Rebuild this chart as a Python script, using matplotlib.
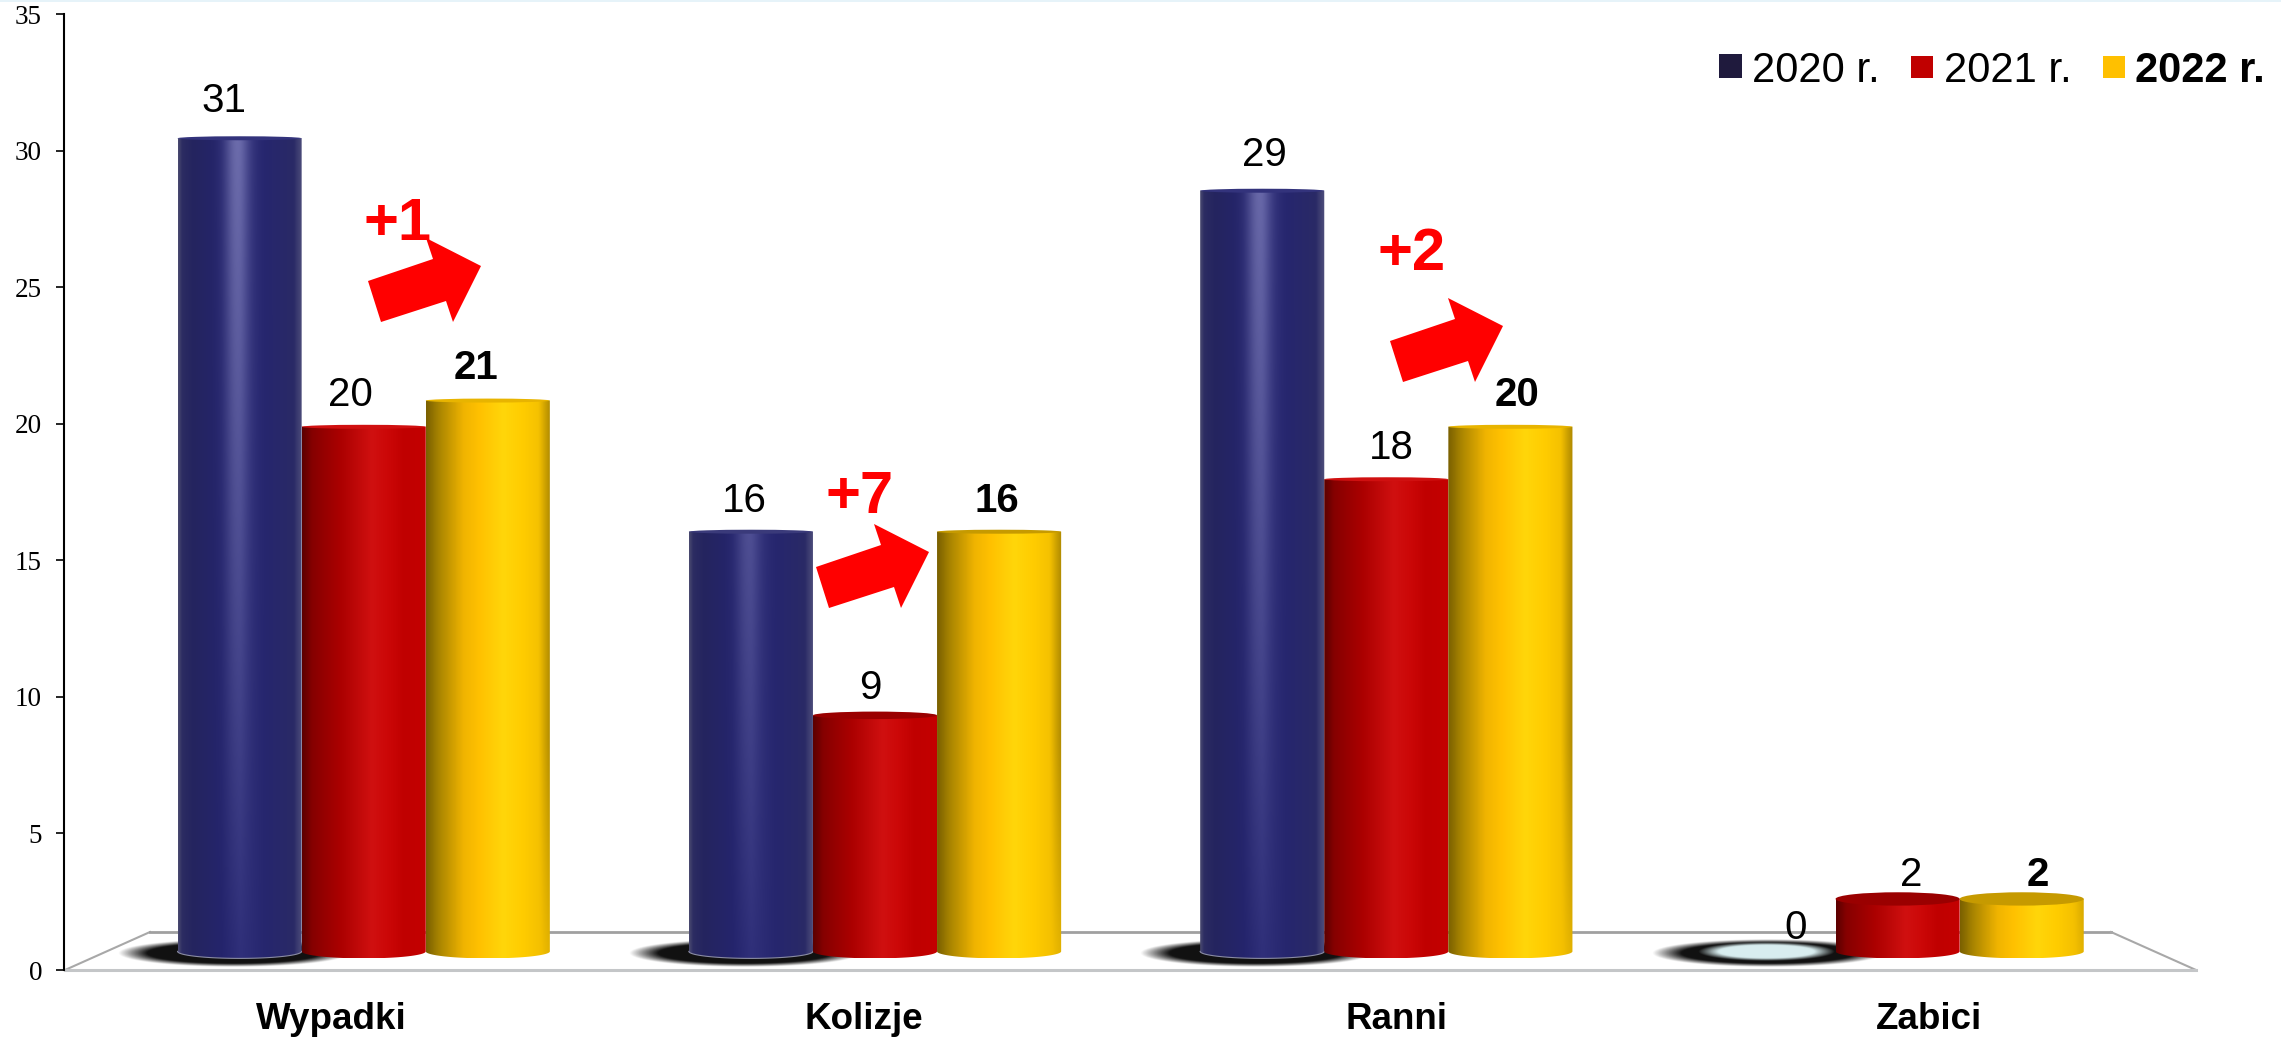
import numpy as np
import matplotlib
matplotlib.use('Agg')
import matplotlib.pyplot as plt
from matplotlib.colors import LinearSegmentedColormap
from matplotlib.patches import Ellipse, Polygon, Rectangle
from matplotlib.lines import Line2D

plt.rcParams['font.family'] = ['Liberation Sans', 'DejaVu Sans']

# data
categories = ['Wypadki', 'Kolizje', 'Ranni', 'Zabici']
years = ['2020 r.', '2021 r.', '2022 r.']
v2020 = [31, 16, 29, 0]
v2021 = [20, 9, 18, 2]
v2022 = [21, 16, 20, 2]
y_ticks = [0, 5, 10, 15, 20, 25, 30, 35]
changes = ['+1', '+7', '+2']

W, H = 2281, 1037
# pixel layout of the 3D looking plot
group0_px, group_px = 363.7, 511.3      # centre of first group, distance between groups
zero_px, unit_px = 951.4, 26.23         # bar base and pixels per value
axis_left, axis_right, axis_top, axis_bottom = 64, 2196, 14, 970
bar_w = 0.2427
label_x = [-0.064, 0.978, 2.020, 3.061]

blue_stops = [(0, '#4a4a70'), (0.03, '#2c2c62'), (0.12, '#24245f'), (0.35, '#24246c'), (0.5, '#30307a'),
              (0.7, '#26266e'), (0.93, '#2a2a66'), (1, '#50507c')]
red_stops = [(0, '#5c0000'), (0.08, '#860000'), (0.3, '#aa0000'), (0.56, '#d01010'), (0.68, '#cc0808'),
             (0.82, '#c00000'), (1, '#c40000')]
yellow_stops = [(0, '#7a6000'), (0.1, '#a88400'), (0.3, '#f0b400'), (0.42, '#ffc000'), (0.62, '#ffd60a'),
                (0.78, '#ffcc00'), (0.92, '#f4c000'), (1, '#e0b000')]
cap_colors = ['#3a3a7a', '#9a0000', '#c69a00']
tall_cap_colors = ['#33337c', '#d01010', '#e8b400']
legend_colors = ['#1f1a3d', '#c00000', '#ffc000']


def fx(px):
    return px / W


def fy(py):
    return 1 - py / H


def draw_cylinder(ax, x, v, stops, cap, series):
    cmap = LinearSegmentedColormap.from_list('c', stops)
    ry_bot = 7.0 / unit_px
    ry_top = max(2.0, 7.5 * (1 - v / 18.0)) / unit_px
    u = np.linspace(0, 1, 240)
    rows = np.linspace(-ry_bot, v, 80)
    rgb = np.repeat(cmap(u)[:, :3][None, :, :], len(rows), axis=0)
    if series == 0:
        # highlight gets stronger towards the top of the blue bars
        hl = np.exp(-((u - 0.47) / 0.1) ** 2)
        rgb = rgb + hl[None, :, None] * (np.clip(rows, 0, 31) / 31.0)[:, None, None] * np.array([0.24, 0.24, 0.2])
    if series == 2:
        # darker right edge on the taller yellow bars
        dark = np.clip((u - 0.9) / 0.1, 0, 1)
        rgb = rgb * (1 - 0.22 * dark[None, :, None] * np.clip(rows / 8.0, 0, 1)[:, None, None])
    rgb = np.clip(rgb, 0, 1)
    left, right = x - bar_w / 2, x + bar_w / 2
    im = ax.imshow(rgb, extent=(left, right, -ry_bot, v), origin='lower', aspect='auto',
                   interpolation='bilinear', zorder=3 + series)
    t = np.linspace(np.pi, 2 * np.pi, 60)
    arc = np.column_stack([x + bar_w / 2 * np.cos(t), ry_bot * np.sin(t)])
    pts = np.vstack([[left, v], arc, [right, v]])
    clip = Polygon(pts, closed=True, transform=ax.transData, fill=False, lw=0)
    ax.add_patch(clip)
    im.set_clip_path(clip)
    if series == 0:
        ax.plot(arc[:, 0], arc[:, 1], color='#8a8ca4', lw=0.8, zorder=3.5)
    ax.add_patch(Ellipse((x, v), bar_w, 2 * ry_top, facecolor=cap, edgecolor='none', zorder=3.2 + series))


def draw_shadow(ax, x, pale):
    cx = x - 6.0 / group_px
    a, b = 116.0 / group_px, 14.0 / unit_px
    xs = np.linspace(-1, 1, 300)
    ys = np.linspace(-1, 1, 80)
    r = np.sqrt(xs[None, :] ** 2 + ys[:, None] ** 2)
    img = np.zeros((80, 300, 4))
    img[..., :3] = 0.07
    img[..., 3] = np.clip((1 - r) / 0.25, 0, 1)
    ax.imshow(img, extent=(cx - a, cx + a, -b - 1.5 / unit_px, b - 1.5 / unit_px), origin='lower', aspect='auto',
              interpolation='bilinear', zorder=2)
    if pale:
        a2, b2 = 68.0 / group_px, 9.5 / unit_px
        img = np.zeros((80, 300, 4))
        img[..., 0], img[..., 1], img[..., 2] = 0.85, 0.93, 0.94
        img[..., 3] = np.clip((1 - r) / 0.3, 0, 1)
        ax.imshow(img, extent=(x - 8.0 / group_px - a2, x - 8.0 / group_px + a2, -b2, b2), origin='lower',
                  aspect='auto', interpolation='bilinear', zorder=2.5)


fig = plt.figure(figsize=(W / 100, H / 100), dpi=100, facecolor='white')

# value axis on the left, category names under the floor
ax = fig.add_axes([fx(axis_left), fy(axis_bottom), fx(axis_right - axis_left), (axis_bottom - axis_top) / H])
ax.patch.set_alpha(0)
ax.set_ylim(0, 35)
ax.set_xlim((axis_left - group0_px) / group_px, (axis_right - group0_px) / group_px)
ax.set_yticks(y_ticks)
ax.set_xticks(label_x)
ax.set_xticklabels(categories, fontsize=26.5, fontweight='bold')
ax.tick_params(axis='x', length=0, pad=23)
ax.tick_params(axis='y', length=5.8, width=1.2, pad=10)
for lab in ax.get_yticklabels():
    lab.set_fontfamily('Liberation Serif')
    lab.set_fontsize(19.5)
for s in ['top', 'right', 'bottom']:
    ax.spines[s].set_visible(False)
ax.spines['left'].set_linewidth(1.5)

# floor
back_y, front_y = 932, 970
floor_x = [65, 150, 2111, 2196]
for xs, ys, col, lw in [([floor_x[0], floor_x[1]], [front_y, back_y], '#a8a8a8', 1.5),
                        ([floor_x[1], floor_x[2]], [back_y, back_y], '#a0a0a0', 2),
                        ([floor_x[2], floor_x[3]], [back_y, front_y], '#a8a8a8', 1.5),
                        ([floor_x[0], floor_x[3]], [front_y, front_y], '#c4c6c8', 2.2)]:
    fig.add_artist(Line2D([fx(p) for p in xs], [fy(p) for p in ys], color=col, lw=lw, zorder=-1))
fig.add_artist(Rectangle((0, fy(2)), 1, 2 / H, facecolor='#e6f3f9', edgecolor='none', zorder=-1))

# bars: they sit in the 3D box so they get their own scale
ax_bars = fig.add_axes([0, 0, 1, 1], zorder=2)
ax_bars.axis('off')
series = [v2020, v2021, v2022]
stops = [blue_stops, red_stops, yellow_stops]
for g in range(len(categories)):
    x0 = g - bar_w
    draw_shadow(ax_bars, x0, v2020[g] == 0)
    for s in range(3):
        x = g + (s - 1) * bar_w
        v = series[s][g]
        if v > 0:
            draw_cylinder(ax_bars, x, v, stops[s], tall_cap_colors[s] if v >= 18 else cap_colors[s], s)
        gap = (16 + 0.3 * v) * 1.4547 * 0.72
        nudge = 0.005 + 0.018 * (x - 1.75)
        if v == 0:
            nudge += 0.02
        ax_bars.annotate(str(v), xy=(x + nudge, v), xytext=(0, gap), textcoords='offset points',
                         ha='center', va='center', fontsize=29, fontweight='bold' if s == 2 else 'normal',
                         zorder=10)
ax_bars.set_xlim(-group0_px / group_px, (W - group0_px) / group_px)
ax_bars.set_ylim((zero_px - H) / unit_px, zero_px / unit_px)

# red arrows with the change labels
arrow_shape = np.array([(0, 0), (65, -22), (58, -43), (113, -15), (85, 41), (78, 20), (13, 41)])
arrow_tail = [(368, 281), (816, 567), (1390, 341)]
change_pos = [(364, 240), (826, 513), (1377, 270)]
for (tx, ty), txt, (px, py) in zip(arrow_tail, changes, change_pos):
    pts = [(fx(tx + a), fy(ty + b)) for a, b in arrow_shape]
    fig.add_artist(Polygon(pts, closed=True, facecolor='#ff0000', edgecolor='none', zorder=5,
                           transform=fig.transFigure))
    fig.text(fx(px), fy(py), txt, color='#ff0000', fontsize=43, fontweight='bold', ha='left', va='baseline', zorder=6)

# legend
legend_box = [(1719, 54, 23, 24), (1911, 56, 22, 22), (2103, 56, 22, 22)]
legend_text_x = [1752, 1944, 2135]
for i in range(3):
    bx, by, bw, bh = legend_box[i]
    fig.add_artist(Rectangle((fx(bx), fy(by + bh)), bw / W, bh / H, facecolor=legend_colors[i], edgecolor='none',
                             zorder=5, transform=fig.transFigure))
    fig.text(fx(legend_text_x[i]), fy(82), years[i], fontsize=30, ha='left', va='baseline', zorder=6,
             fontweight='bold' if i == 2 else 'normal')

fig.savefig('out.png', dpi=100)
